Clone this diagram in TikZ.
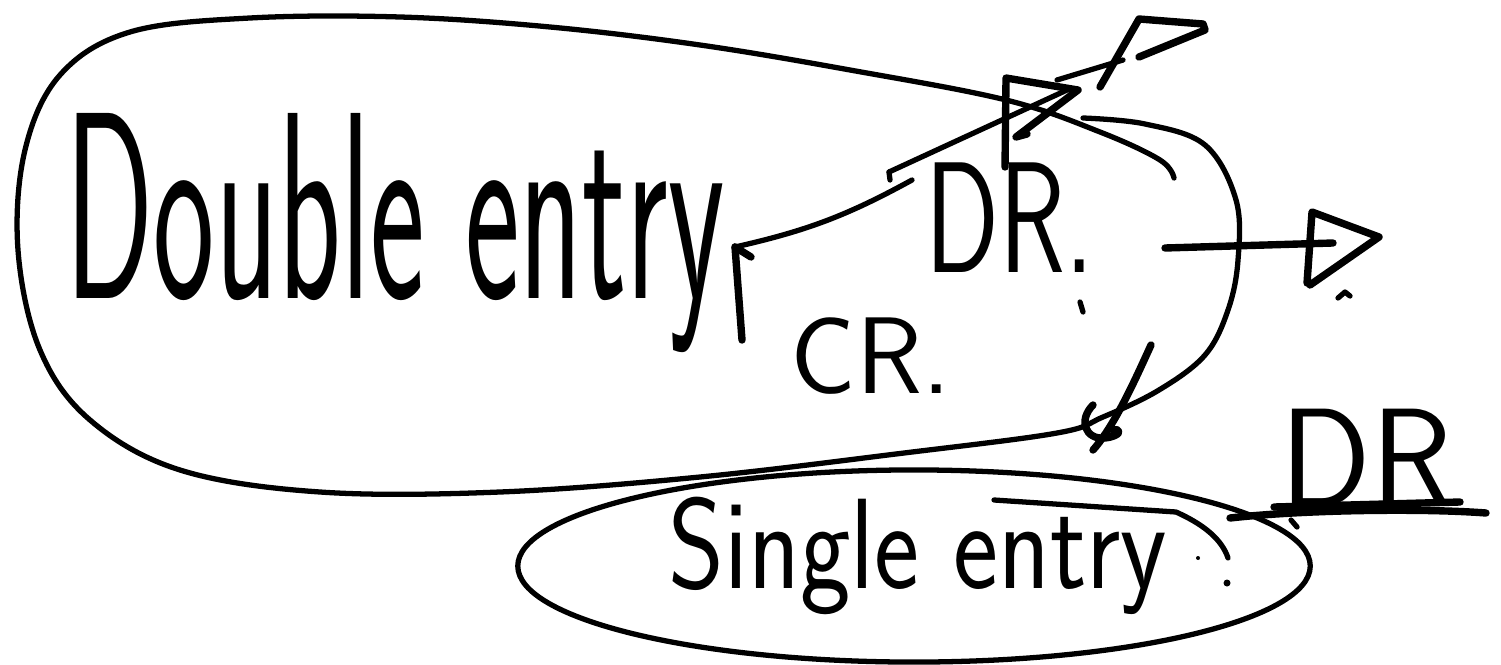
\documentclass[tikz,border=0pt]{standalone}
\usepackage{graphicx}
\usepackage{tikz}
\usetikzlibrary{positioning}

\begin{document}
\begin{tikzpicture}[x=0.01cm, y=-0.01cm]
\tikzset{ink/.style = {line width=1.5pt, line cap=round, line join=round}}
\tikzset{heavy/.style = {ink, line width=2.1pt}}
\tikzset{hand/.style = {inner sep=0pt, anchor=base west}}
\useasboundingbox (0,0) rectangle (1501,664);
% labels
\node[hand, font=\sffamily\fontsize{37}{37}\selectfont] (double) at (65,298) {\scalebox{1}[2.05]{Double entry}};
\node[hand, font=\sffamily\fontsize{30.5}{30.5}\selectfont] (single) at (668,588) {\scalebox{1}[1.2]{Single entry}};
\node[hand, font=\sffamily\fontsize{31}{31}\selectfont] (cr) at (790,393) {CR.};
\node[hand, font=\sffamily\fontsize{31}{31}\selectfont] (drtop) at (925,272) {\scalebox{1}[1.45]{DR.}};
\node[hand, font=\sffamily\fontsize{38}{38}\selectfont] (drlow) at (1280,506) {\scalebox{1}[1.05]{DR}};
% points
\coordinate (root) at (735,247);
\coordinate (foot) at (742,340);
\coordinate (knee) at (912,180);
\coordinate (fork) at (889,172);
\coordinate (tipA) at (1067,90);
\coordinate (forkA) at (1057,80);
\coordinate (tipB) at (1123,60);
\coordinate (stem) at (1165,248);
\coordinate (tipC) at (1333,243);
% outlines
\draw[ink] plot[smooth, tension=0.6] coordinates {(1083,118) (1145,124) (1205,145) (1236,200) (1238,260) (1228,310) (1205,355) (1159,390) (1103,417) (1057,433) (904,453) (700,477) (500,492) (320,492) (180,470) (90,420) (40,350) (18,250) (25,150) (60,75) (130,32) (250,18) (400,17) (550,27) (700,45) (850,70) (1006,100) (1100,132) (1160,160) (1174,178)};
\draw[ink] (914,566) ellipse [x radius=3.96cm, y radius=0.96cm];
%edges
\path[heavy] (root) edge (foot);
\path[heavy] (root) edge (751,257);
\path[ink] (root) edge[bend right=8] (knee);
\path[ink] (fork) edge (890,180);
\path[ink] (fork) edge (tipA);
\path[ink] (forkA) edge (tipB);
\path[heavy] (stem) edge (tipC);
% heads
\draw[heavy] (1005,167) -- (1006,78) -- (1078,90) -- (1016,137) -- (1027,134);
\draw[heavy] (1100,87) -- (1139,19) -- (1203,24) -- (1205,30) -- (1139,57);
\draw[heavy] (1307,283) -- (1312,212) -- (1379,237) -- (1310,285);
% marks
\draw[ink] (1338,298) -- (1345,292) -- (1350,296);
\draw[ink] (1080,302) -- (1083,312);
\draw[heavy] (1151,345) .. controls (1135,380) and (1115,425) .. (1093,450);
\draw[heavy] (1093,405) .. controls (1078,420) and (1085,440) .. (1105,438) .. controls (1122,436) and (1122,428) .. (1113,430);
\draw[ink] (994,500) -- (1176,512) .. controls (1205,525) and (1222,540) .. (1228,558);
\fill (1198,558) circle [radius=0.02cm];
\fill (1227,583) circle [radius=0.035cm];
\draw[heavy] (1274,507) -- (1460,502);
\draw[heavy] (1230,518) .. controls (1300,510) and (1420,508) .. (1486,513);
\draw[ink] (1291,520) -- (1297,527);
\end{tikzpicture}
\end{document}
